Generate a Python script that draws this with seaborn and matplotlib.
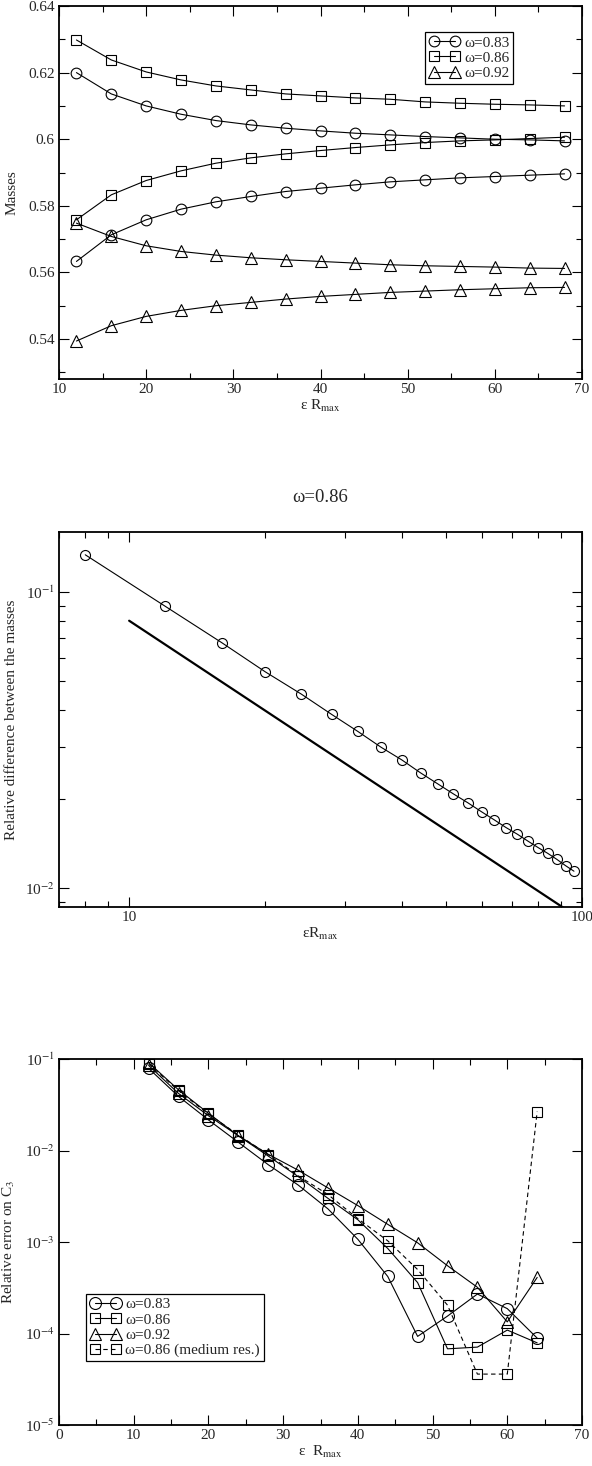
import numpy as np
import pandas as pd
import matplotlib
matplotlib.use("Agg")
import matplotlib.pyplot as plt
import matplotlib.ticker as mticker
import seaborn as sns

# ---- panel 1 : masses vs eps*Rmax (two branches per omega)
eps_r = [12, 16, 20, 24, 28, 32, 36, 40, 44, 48, 52, 56, 60, 64, 68]
m083_up = [0.6200, 0.6136, 0.6100, 0.6075, 0.6056, 0.6043, 0.6033, 0.6025,
           0.6018, 0.6013, 0.6008, 0.6004, 0.6000, 0.5998, 0.5995]
m083_lo = [0.5633, 0.5713, 0.5758, 0.5790, 0.5812, 0.5828, 0.5843, 0.5853,
           0.5863, 0.5872, 0.5878, 0.5884, 0.5888, 0.5892, 0.5896]
m086_up = [0.6298, 0.6238, 0.6202, 0.6178, 0.6160, 0.6148, 0.6136, 0.6130,
           0.6124, 0.6120, 0.6112, 0.6108, 0.6105, 0.6103, 0.6100]
m086_lo = [0.5758, 0.5833, 0.5876, 0.5905, 0.5928, 0.5944, 0.5956, 0.5966,
           0.5975, 0.5983, 0.5990, 0.5995, 0.5998, 0.6002, 0.6006]
m092_up = [0.5748, 0.5708, 0.5680, 0.5663, 0.5652, 0.5644, 0.5638, 0.5633,
           0.5628, 0.5623, 0.5620, 0.5618, 0.5616, 0.5613, 0.5612]
m092_lo = [0.5394, 0.5440, 0.5468, 0.5486, 0.5500, 0.5510, 0.5520, 0.5528,
           0.5534, 0.5540, 0.5544, 0.5548, 0.5551, 0.5554, 0.5555]

# ---- panel 2 : relative mass difference, omega=0.86
eps_r2 = [8, 12, 16, 20, 24, 28, 32, 36, 40, 44, 48, 52, 56, 60, 64, 68,
          72, 76, 80, 84, 88, 92, 96]
rel_diff = [0.1336, 0.0896, 0.0675, 0.0537, 0.0452, 0.0386, 0.0338, 0.0299,
            0.0271, 0.0245, 0.0225, 0.0208, 0.0194, 0.0181, 0.0170, 0.0160,
            0.0152, 0.0144, 0.0137, 0.0131, 0.0125, 0.0119, 0.0114]
ref_x = [10, 100]
ref_y = [0.080, 0.0078]

# ---- panel 3 : relative error on C3
eps_r3 = [12, 16, 20, 24, 28, 32, 36, 40, 44, 48, 52, 56, 60, 64]
err083 = [0.079, 0.039, 0.0216, 0.0123, 0.0070, 0.0042, 0.0023, 0.00107,
          0.00042, 9.3e-5, 1.55e-4, 2.7e-4, 1.87e-4, 8.9e-5]
err086 = [0.091, 0.046, 0.0255, 0.0145, 0.0087, 0.0052, 0.0030, 0.00175,
          0.00085, 0.00036, 6.8e-5, 7.1e-5, 1.09e-4, 7.9e-5]
err092 = [0.085, 0.042, 0.024, 0.0145, 0.0091, 0.0061, 0.0039, 0.0025,
          0.00156, 0.00098, 0.00055, 0.00032, 1.34e-4, 4.1e-4]
err086_med = [0.088, 0.045, 0.025, 0.0148, 0.0090, 0.0053, 0.0033, 0.0018,
              0.00103, 0.00050, 2.04e-4, 3.6e-5, 3.6e-5, 0.0266]

sns.set_style("ticks")
plt.rcParams["font.family"] = ["Liberation Serif", "DejaVu Serif"]
plt.rcParams["mathtext.fontset"] = "stix"
plt.rcParams["font.size"] = 11

W, H = 592, 1466
fig = plt.figure(figsize=(W / 100, H / 100), dpi=100)


def box(top, bottom, left=59, right=582):
    return [left / W, 1 - bottom / H, (right - left) / W, (bottom - top) / H]


def style_axes(ax):
    for s in ax.spines.values():
        s.set_linewidth(1.3)
        s.set_color("black")
    ax.tick_params(which="both", direction="in", top=True, right=True,
                   color="black", width=0.8, labelsize=11, pad=3)
    ax.tick_params(which="major", length=7.5)
    ax.tick_params(which="minor", length=4)


mk = dict(color="black", mfc="none", mec="black", mew=0.8, lw=0.8)
legkw = dict(loc="upper left", borderaxespad=0, numpoints=2, handlelength=2.0,
             handletextpad=0.3, labelspacing=0.1, borderpad=0.25,
             fancybox=False, framealpha=1, edgecolor="black", fontsize=11)

# 1. Masses
ax1 = fig.add_axes(box(6, 379))
series1 = [("ω=0.83", "o", 7.7, m083_up, m083_lo),
           ("ω=0.86", "s", 6.5, m086_up, m086_lo),
           ("ω=0.92", "^", 8.3, m092_up, m092_lo)]
for lab, m, ms, up, lo in series1:
    sns.lineplot(x=eps_r, y=up, marker=m, ms=ms, label=lab, ax=ax1, **mk)
    sns.lineplot(x=eps_r, y=lo, marker=m, ms=ms, ax=ax1, **mk)
ax1.set_xlim(10, 70)
ax1.set_ylim(0.528, 0.64)
ax1.xaxis.set_major_locator(mticker.MultipleLocator(10))
ax1.xaxis.set_minor_locator(mticker.MultipleLocator(5))
ax1.yaxis.set_major_locator(mticker.MultipleLocator(0.02))
ax1.yaxis.set_minor_locator(mticker.MultipleLocator(0.01))
ax1.yaxis.set_major_formatter(mticker.FuncFormatter(lambda v, p: "%g" % round(v, 3)))
style_axes(ax1)
ax1.set_xlabel(r"ε R$_{\rm max}$", labelpad=1)
ax1.set_ylabel("Masses")
ax1.yaxis.set_label_coords(-0.078, 0.5)
leg = ax1.legend(bbox_to_anchor=(0.70, 0.93), **legkw)
leg.get_frame().set_linewidth(0.9)

# 2. Relative difference between the masses
fig.text(320 / W, 1 - 497 / H, "ω=0.86", ha="center", va="center", fontsize=13.5)
ax2 = fig.add_axes(box(532, 907))
sns.lineplot(x=eps_r2, y=rel_diff, marker="o", ms=7.2, ax=ax2, **mk)
sns.lineplot(x=ref_x, y=ref_y, color="black", lw=1.6, ax=ax2)
ax2.set_xscale("log")
ax2.set_yscale("log")
ax2.set_xlim(7, 100)
ax2.set_ylim(0.00863, 0.1595)
ax2.xaxis.set_major_locator(mticker.LogLocator(base=10))
ax2.xaxis.set_minor_locator(mticker.LogLocator(base=10, subs=np.arange(2, 10)))
ax2.xaxis.set_major_formatter(mticker.FuncFormatter(lambda v, p: "%d" % round(v)))
ax2.xaxis.set_minor_formatter(mticker.NullFormatter())
ax2.yaxis.set_major_locator(mticker.LogLocator(base=10))
ax2.yaxis.set_minor_locator(mticker.LogLocator(base=10, subs=np.arange(2, 10)))
ax2.yaxis.set_major_formatter(mticker.FuncFormatter(
    lambda v, p: r"10$^{%d}$" % round(np.log10(v))))
ax2.yaxis.set_minor_formatter(mticker.NullFormatter())
style_axes(ax2)
ax2.set_xlabel(r"εR$_{\rm max}$", labelpad=1)
ax2.set_ylabel("Relative difference between the masses")
ax2.yaxis.set_label_coords(-0.078, 0.5)

# 3. Relative error on C3
ax3 = fig.add_axes(box(1059, 1425))
sns.lineplot(x=eps_r3, y=err083, marker="o", ms=8.6, label="ω=0.83", ax=ax3, **mk)
sns.lineplot(x=eps_r3, y=err086, marker="s", ms=6.8, label="ω=0.86", ax=ax3, **mk)
sns.lineplot(x=eps_r3, y=err092, marker="^", ms=8.3, label="ω=0.92", ax=ax3, **mk)
sns.lineplot(x=eps_r3, y=err086_med, marker="s", ms=6.8, ls=(0, (4, 3)),
             label="ω=0.86 (medium res.)", ax=ax3, **mk)
ax3.set_yscale("log")
ax3.set_xlim(0, 70)
ax3.set_ylim(1e-5, 1e-1)
ax3.xaxis.set_major_locator(mticker.MultipleLocator(10))
ax3.xaxis.set_minor_locator(mticker.MultipleLocator(5))
ax3.yaxis.set_major_locator(mticker.LogLocator(base=10))
ax3.yaxis.set_minor_locator(mticker.NullLocator())
ax3.yaxis.set_major_formatter(mticker.FuncFormatter(
    lambda v, p: r"10$^{%d}$" % round(np.log10(v))))
style_axes(ax3)
ax3.set_xlabel(r"ε  R$_{\rm max}$", labelpad=1)
ax3.set_ylabel(r"Relative error on C$_3$")
ax3.yaxis.set_label_coords(-0.08, 0.5)
leg3 = ax3.legend(bbox_to_anchor=(0.052, 0.358), **legkw)
leg3.get_frame().set_linewidth(0.9)

fig.savefig("out.png", dpi=100)
